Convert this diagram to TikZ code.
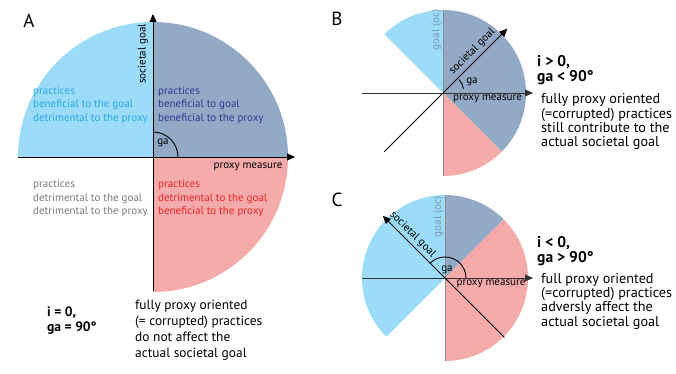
\documentclass[tikz,border=0pt]{standalone}
\usepackage{fontspec}
\setmainfont{PT Sans}
\usetikzlibrary{arrows.meta}
\definecolor{lblue}{HTML}{9DDCF8}
\definecolor{gblue}{HTML}{93AAC6}
\definecolor{lpink}{HTML}{F5ABAA}
\definecolor{tcyan}{HTML}{29AAE2}
\definecolor{tnavy}{HTML}{2E3A8F}
\definecolor{tgray}{HTML}{7A7A7A}
\definecolor{tred}{HTML}{E8262C}
\definecolor{ocgray}{HTML}{7898B2}
\definecolor{dline}{HTML}{333333}
\definecolor{vline}{HTML}{8C8C8C}
\begin{document}
\begin{tikzpicture}[x=1bp,y=1bp,
  axis/.style={line width=0.9bp,-{Triangle[length=8bp,width=7bp]}},
  plain/.style={line width=0.9bp},
  quad/.style={inner sep=0pt,anchor=west,align=left,font=\fontsize{11bp}{13.4bp}\selectfont},
  lab/.style={inner sep=0pt,font=\fontsize{11bp}{12bp}\selectfont},
  big/.style={inner sep=0pt,font=\fontsize{19bp}{22bp}\selectfont},
  boldA/.style={inner sep=0pt,anchor=west,align=left,font=\fontsize{13.6bp}{15bp}\selectfont\bfseries},
  txtA/.style={inner sep=0pt,anchor=west,align=left,font=\fontsize{13.4bp}{16bp}\selectfont},
  boldB/.style={inner sep=0pt,anchor=west,align=left,font=\fontsize{15.5bp}{15bp}\selectfont\bfseries},
  txtB/.style={inner sep=0pt,anchor=west,align=left,font=\fontsize{14.2bp}{14.4bp}\selectfont}
]
\useasboundingbox (0,0) rectangle (676,373);

% ---------------- Panel A ----------------
\coordinate (A) at (153,216);
\fill[lblue] (A) -- ++(90:135bp) arc[start angle=90,end angle=180,radius=135bp] -- cycle;
\fill[gblue] (A) -- ++(0:135bp) arc[start angle=0,end angle=90,radius=135bp] -- cycle;
\fill[lpink] (A) -- ++(270:135bp) arc[start angle=270,end angle=360,radius=135bp] -- cycle;
\draw[plain] (A) ++(0:25bp) arc[start angle=0,end angle=90,radius=25bp];
\coordinate (Ax0) at (18,216);
\coordinate (Ax1) at (295,216);
\coordinate (Ay0) at (153,82);
\coordinate (Ay1) at (153,359);
\draw[axis] (Ax0) -- (Ax1);
\draw[axis] (Ay0) -- (Ay1);
\node[big] (labA) at (29,352) {A};
\node[lab,rotate=90] (sgA) at (143,319) {societal goal};
\node[lab] (pmA) at (248,206) {proxy measure};
\node[lab] (gaA) at (163,230) {ga};
\node[quad,text=tcyan] (q1) at (33,268) {practices\\beneficial to the goal\\detrimental to the proxy};
\node[quad,text=tnavy] (q2) at (158,268) {practices\\beneficial to goal\\beneficial to the proxy};
\node[quad,text=tgray] (q3) at (33,174.5) {practices\\detrimental to the goal\\detrimental to the proxy};
\node[quad,text=tred] (q4) at (158,174.5) {practices\\detrimental to the goal\\beneficial to the proxy};
\node[boldA] (iA) at (47,52.5) {i = 0,\\ga = 90°};
\node[txtA] (tA) at (135,42.5) {fully proxy oriented\\(= corrupted) practices\\do not affect the\\actual societal goal};

% ---------------- Panel B ----------------
\coordinate (B) at (443,280);
\fill[lblue] (B) -- ++(90:83bp) arc[start angle=90,end angle=135,radius=83bp] -- cycle;
\fill[gblue] (B) -- ++(-45:83bp) arc[start angle=-45,end angle=90,radius=83bp] -- cycle;
\fill[lpink] (B) -- ++(270:83bp) arc[start angle=270,end angle=315,radius=83bp] -- cycle;
\coordinate (Bv0) at (443,197);
\coordinate (Bv1) at (443,363);
\draw[vline,line width=0.8bp] (Bv0) -- (Bv1);
\coordinate (Bh0) at (362,280);
\coordinate (Bh1) at (533,280);
\draw[axis,dline] (Bh0) -- (Bh1);
\path (B) ++(225:83bp) coordinate (Bd0);
\path (B) ++(45:91bp) coordinate (Bd1);
\draw[axis] (Bd0) -- (Bd1);
\draw[plain] (B) ++(12:21bp) arc[start angle=12,end angle=40,radius=21bp];
\node[big] (labB) at (337,354) {B};
\node[lab,rotate=90,text=ocgray] (ocB) at (436.5,343) {goal (oc)};
\path (B) ++(45:50bp) ++(135:8.5bp) node[lab,rotate=45] (sgB) {societal goal};
\node[lab] (pmB) at (487.5,274) {proxy measure};
\node[lab] (gaB) at (472,291) {ga};
\node[boldB] (iB) at (537,302.5) {i > 0,\\ga < 90°};
\node[txtB] (tB) at (541,251.3) {fully proxy oriented\\(=corrupted) practices\\still contribute to the\\actual societal goal};

% ---------------- Panel C ----------------
\coordinate (C) at (445,95);
\fill[lblue] (C) -- ++(90:83bp) arc[start angle=90,end angle=225,radius=83bp] -- cycle;
\fill[gblue] (C) -- ++(45:83bp) arc[start angle=45,end angle=90,radius=83bp] -- cycle;
\fill[lpink] (C) -- ++(-90:83bp) arc[start angle=-90,end angle=45,radius=83bp] -- cycle;
\coordinate (Cv0) at (445,12);
\coordinate (Cv1) at (445,178);
\draw[vline,line width=0.8bp] (Cv0) -- (Cv1);
\coordinate (Ch0) at (362,95);
\coordinate (Ch1) at (533,95);
\draw[axis,dline] (Ch0) -- (Ch1);
\path (C) ++(-45:84bp) coordinate (Cd0);
\path (C) ++(135:88bp) coordinate (Cd1);
\draw[axis] (Cd0) -- (Cd1);
\draw[plain] (C) ++(0:21bp) arc[start angle=0,end angle=135,radius=21bp];
\node[big] (labC) at (337,173) {C};
\node[lab,rotate=90,text=ocgray] (ocC) at (438.5,156) {goal (oc)};
\path (C) ++(135:53.7bp) ++(45:8.1bp) node[lab,rotate=-45] (sgC) {societal goal};
\node[lab] (pmC) at (491,89) {proxy measure};
\node[lab] (gaC) at (447,103) {ga};
\node[boldB] (iC) at (537,122) {i < 0,\\ga > 90°};
\node[txtB] (tC) at (541,71.8) {full proxy oriented\\(=corrupted) practices\\adversly affect the\\actual societal goal};
\end{tikzpicture}
\end{document}
